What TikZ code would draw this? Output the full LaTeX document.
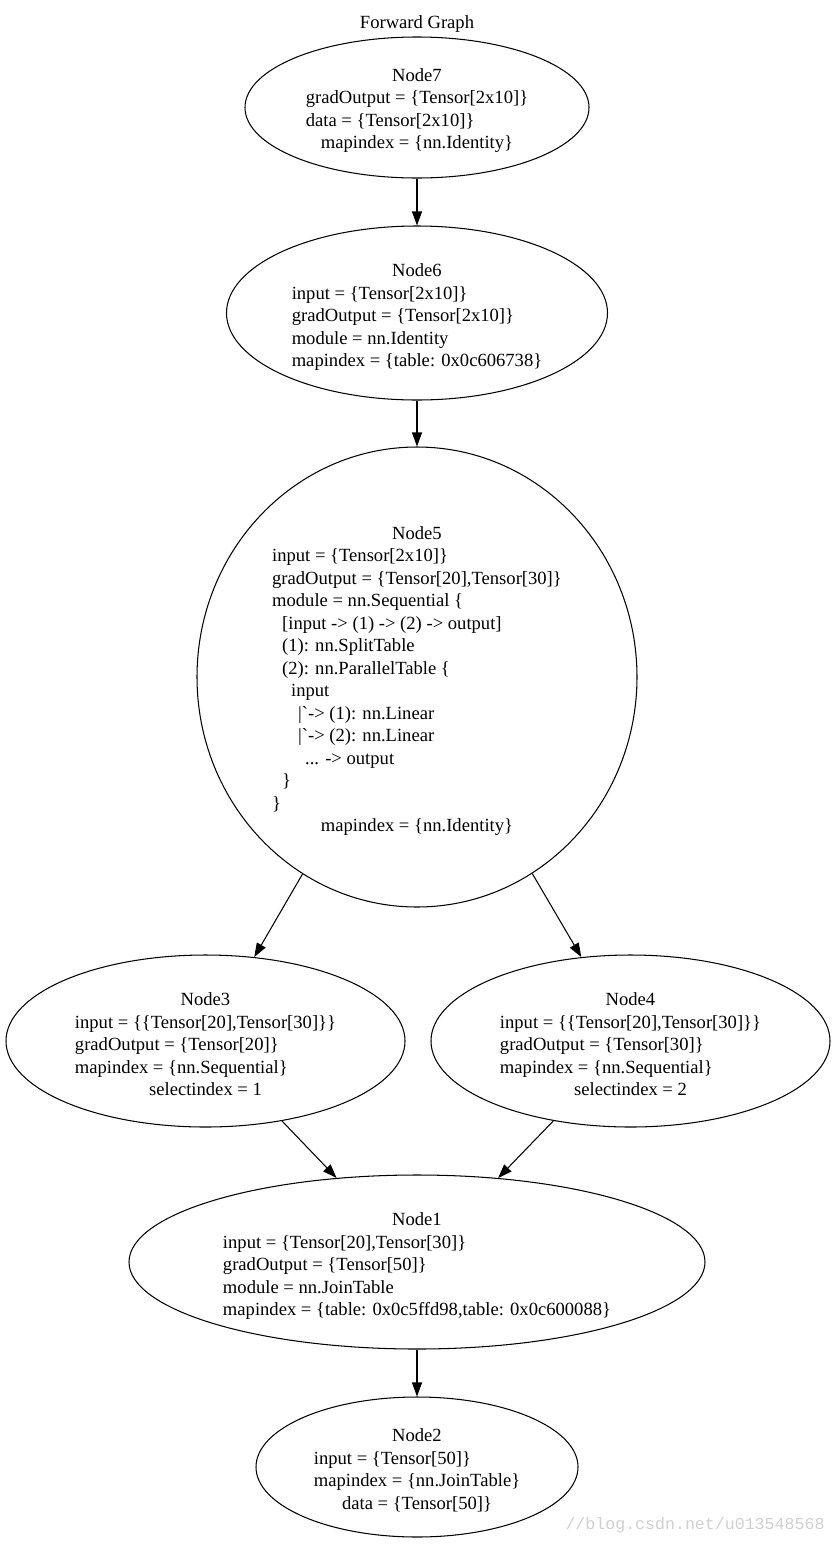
\documentclass[tikz,border=0pt]{standalone}
\usepackage{fontspec}
\setmainfont{Liberation Serif}
\newfontfamily\wmfont{Liberation Mono}
\usetikzlibrary{arrows.meta,shapes.geometric}
\definecolor{wmgray}{RGB}{208,208,208}
\newcommand\mcen[1]{\multicolumn{1}{@{}c@{}}{#1}}
\newcommand\grv{\textasciigrave}
\begin{document}
\begin{tikzpicture}[x=1pt,y=-1pt,
  ell/.style={draw, ellipse, inner sep=0pt, line width=1.05pt},
  txt/.style={inner sep=0pt, font=\fontsize{18.6}{22.5}\selectfont},
  edge/.style={line width=1.05pt, -{Triangle[length=14pt,width=10pt]}}]
\useasboundingbox (0,0) rectangle (836,1545);
\fill[white] (0,0) rectangle (836,1545);

\node[txt] (title) at (417,24) {Forward Graph};

% ellipses
\node[ell, minimum width=344pt, minimum height=141pt] (n7) at (417,107.5) {};
\node[ell, minimum width=381pt, minimum height=174pt] (n6) at (417,313) {};
\node[ell, minimum width=440pt, minimum height=460pt] (n5) at (417,677) {};
\node[ell, minimum width=399pt, minimum height=172pt] (n3) at (205.5,1041) {};
\node[ell, minimum width=399pt, minimum height=172pt] (n4) at (630.5,1041) {};
\node[ell, minimum width=576pt, minimum height=174pt] (n1) at (417,1262) {};
\node[ell, minimum width=322pt, minimum height=140pt] (n2) at (417,1467) {};

% labels
\node[txt] (t7) at (417,110.5) {\begin{tabular}{@{}l@{}}
\mcen{Node7}\\
gradOutput = \{Tensor[2x10]\}\\
data = \{Tensor[2x10]\}\\
\mcen{mapindex = \{nn.Identity\}}
\end{tabular}};

\node[txt] (t6) at (417,317) {\begin{tabular}{@{}l@{}}
\mcen{Node6}\\
input = \{Tensor[2x10]\}\\
gradOutput = \{Tensor[2x10]\}\\
module = nn.Identity\\
\mcen{mapindex = \{table: 0x0c606738\}}
\end{tabular}};

\node[txt] (t5) at (417,681) {\begin{tabular}{@{}l@{}}
\mcen{Node5}\\
input = \{Tensor[2x10]\}\\
gradOutput = \{Tensor[20],Tensor[30]\}\\
module = nn.Sequential \{\\
\hspace*{10pt}[input -> (1) -> (2) -> output]\\
\hspace*{10pt}(1): nn.SplitTable\\
\hspace*{10pt}(2): nn.ParallelTable \{\\
\hspace*{19pt}input\\
\hspace*{26pt}|\grv-> (1): nn.Linear\\
\hspace*{26pt}|\grv-> (2): nn.Linear\\
\hspace*{33pt}... -> output\\
\hspace*{10pt}\}\\
\}\\
\mcen{mapindex = \{nn.Identity\}}
\end{tabular}};

\node[txt] (t3) at (205.5,1046) {\begin{tabular}{@{}l@{}}
\mcen{Node3}\\
input = \{\{Tensor[20],Tensor[30]\}\}\\
gradOutput = \{Tensor[20]\}\\
mapindex = \{nn.Sequential\}\\
\mcen{selectindex = 1}
\end{tabular}};

\node[txt] (t4) at (630.5,1046) {\begin{tabular}{@{}l@{}}
\mcen{Node4}\\
input = \{\{Tensor[20],Tensor[30]\}\}\\
gradOutput = \{Tensor[30]\}\\
mapindex = \{nn.Sequential\}\\
\mcen{selectindex = 2}
\end{tabular}};

\node[txt] (t1) at (417,1266) {\begin{tabular}{@{}l@{}}
\mcen{Node1}\\
input = \{Tensor[20],Tensor[30]\}\\
gradOutput = \{Tensor[50]\}\\
module = nn.JoinTable\\
\mcen{mapindex = \{table: 0x0c5ffd98,table: 0x0c600088\}}
\end{tabular}};

\node[txt] (t2) at (417,1471) {\begin{tabular}{@{}l@{}}
\mcen{Node2}\\
input = \{Tensor[50]\}\\
mapindex = \{nn.JoinTable\}\\
\mcen{data = \{Tensor[50]\}}
\end{tabular}};

% edges
\draw[edge] (n7) -- (n6);
\draw[edge] (n6) -- (n5);
\draw[edge] (n5) -- (n3);
\draw[edge] (n5) -- (n4);
\draw[edge] (n3) -- (n1);
\draw[edge] (n4) -- (n1);
\draw[edge] (n1) -- (n2);

% watermark
\node[inner sep=0pt, text=wmgray, font=\wmfont\fontsize{16.6}{18}\selectfont] (wm) at (695,1525) {//blog.csdn.net/u013548568};
\end{tikzpicture}
\end{document}
